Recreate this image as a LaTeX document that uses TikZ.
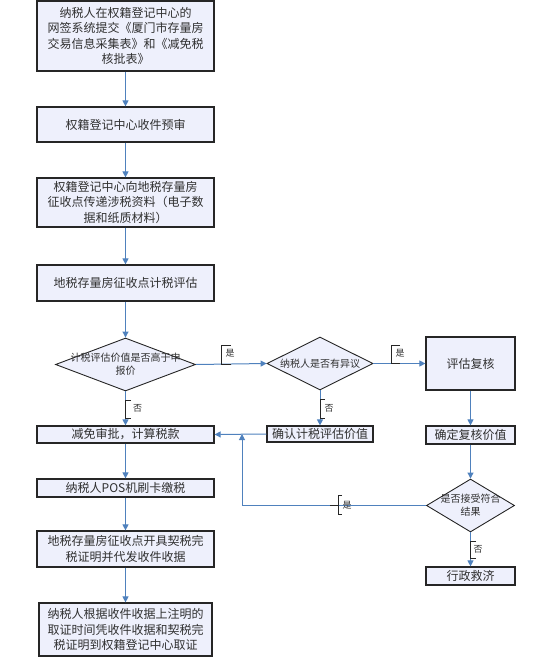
\documentclass[tikz,border=0pt]{standalone}
\usepackage{fontspec}
\newfontfamily\cjk{Noto Sans CJK SC}
\usetikzlibrary{shapes.geometric,arrows.meta}
\definecolor{boxfill}{HTML}{EEF0FC}
\definecolor{arrblue}{HTML}{4F81BD}
\definecolor{txt}{HTML}{303030}
\tikzset{
  box/.style={draw=black!85, line width=1.2pt, fill=boxfill, inner sep=0pt,
    align=center, text=txt, font=\cjk\fontsize{12}{15.5}\selectfont},
  dia/.style={diamond, draw=black!85, line width=0.9pt, fill=boxfill, inner sep=0pt,
    align=center, text=txt, font=\cjk\fontsize{10}{13}\selectfont},
  arr/.style={draw=arrblue, line width=1pt, -{Triangle[length=6pt,width=6pt]}},
  brk/.style={draw=black!85, line width=0.9pt},
  lab/.style={text=txt, font=\cjk\fontsize{9}{10}\selectfont, inner sep=0pt}
}
\begin{document}
\begin{tikzpicture}[x=1pt,y=-1pt]
\useasboundingbox (0,0) rectangle (548,658);
% left column
\node[box, minimum width=177, minimum height=70] (b1) at (125.5,36)
  {纳税人在权籍登记中心的\\网签系统提交《厦门市存量房\\交易信息采集表》和《减免税\\核批表》};
\node[box, minimum width=177, minimum height=35] (b2) at (125.5,124.5) {权籍登记中心收件预审};
\node[box, minimum width=177, minimum height=49] (b3) at (125.5,202.5)
  {权籍登记中心向地税存量房\\征收点传递涉税资料（电子数\\据和纸质材料）};
\node[box, minimum width=177, minimum height=36] (b4) at (125.5,283) {地税存量房征收点计税评估};
\node[dia, minimum width=140, minimum height=53] (d1) at (125.5,364.5)
  {\makebox[0pt]{计税评估价值是否高于申}\\\makebox[0pt]{报价}};
\node[box, minimum width=177, minimum height=17] (b5) at (125.5,434.5) {减免审批，计算税款};
\node[box, minimum width=177, minimum height=18] (b6) at (125.5,488) {纳税人POS机刷卡缴税};
\node[box, minimum width=177, minimum height=36] (b7) at (125.5,549)
  {地税存量房征收点开具契税完\\税证明并代发收件收据};
\node[box, minimum width=173, minimum height=53] (b8) at (125.5,629.5)
  {纳税人根据收件收据上注明的\\取证时间凭收件收据和契税完\\税证明到权籍登记中心取证};
% middle column
\node[dia, minimum width=106, minimum height=53] (d2) at (320,363.5)
  {\makebox[0pt]{纳税人是否有异议}};
\node[box, minimum width=106, minimum height=16] (c1) at (320,434) {确认计税评估价值};
% right column
\node[box, minimum width=89, minimum height=53] (r1) at (470.5,363.5) {评估复核};
\node[box, minimum width=89, minimum height=18] (r2) at (470.5,435) {确定复核价值};
\node[dia, minimum width=88, minimum height=53] (d3) at (470.5,505.5)
  {\makebox[0pt]{是否接受符合}\\\makebox[0pt]{结果}};
\node[box, minimum width=89, minimum height=18] (r3) at (470.5,576) {行政救济};
% connectors
\draw[arr] (b1) -- (b2);
\draw[arr] (b2) -- (b3);
\draw[arr] (b3) -- (b4);
\draw[arr] (b4) -- (d1);
\draw[arr] (d1) -- (b5);
\draw[arr] (b5) -- (b6);
\draw[arr] (b6) -- (b7);
\draw[arr] (b7) -- (b8);
\draw[arr] (d1.east) -- (d2.west);
\draw[arr] (d2.east) -- (r1.west);
\draw[arr] (d2) -- (c1);
\draw[arr] (c1.west) -- (b5.east);
\draw[arr] (r1) -- (r2);
\draw[arr] (r2) -- (d3);
\draw[arr] (d3) -- (r3);
\coordinate (m) at (242,434);
\draw[arr] (d3.west) -| (m);
% labels
\draw[brk] (231,345.5) -- (221,345.5) -- (221,364) -- (231,364);
\node[lab] (l1) at (230,353) {是};
\draw[brk] (400,345.5) -- (391,345.5) -- (391,363.5) -- (400,363.5);
\node[lab] (l2) at (400,353) {是};
\draw[brk] (131,400.5) -- (125.5,400.5) -- (125.5,418.5) -- (131,418.5);
\node[lab] (l3) at (137.5,408.5) {否};
\draw[brk] (325,399.5) -- (320,399.5) -- (320,418) -- (325,418);
\node[lab] (l4) at (329,408.5) {否};
\draw[brk] (476,541) -- (470.5,541) -- (470.5,558) -- (476,558);
\node[lab] (l5) at (478,549) {否};
\draw[brk] (342,495.5) -- (338.5,495.5) -- (338.5,514) -- (342,514);
\draw[brk] (330,505.5) -- (338.5,505.5);
\node[lab] (l6) at (347,505) {是};
\end{tikzpicture}
\end{document}
